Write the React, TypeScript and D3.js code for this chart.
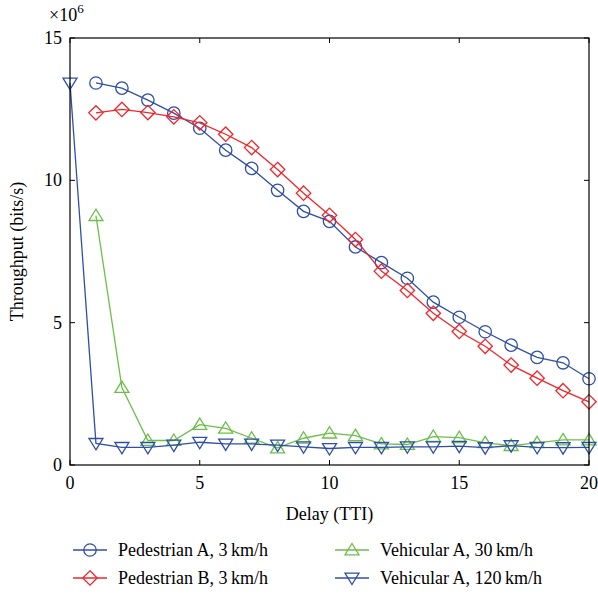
import React from "react";
import * as d3 from "d3";

const delays = d3.range(0, 21);
const pedA = [null, 13.42, 13.24, 12.82, 12.36, 11.83, 11.06, 10.42, 9.65, 8.91, 8.56, 7.66, 7.11, 6.56, 5.72, 5.19, 4.68, 4.21, 3.78, 3.59, 3.03];
const pedB = [null, 12.37, 12.49, 12.38, 12.23, 12.02, 11.62, 11.15, 10.38, 9.55, 8.77, 7.92, 6.81, 6.13, 5.33, 4.69, 4.17, 3.51, 3.05, 2.61, 2.22];
const vehA30 = [null, 8.76, 2.72, 0.86, 0.86, 1.42, 1.29, 0.94, 0.6, 0.94, 1.12, 1.03, 0.74, 0.72, 1.0, 0.96, 0.78, 0.68, 0.78, 0.88, 0.88];
const vehA120 = [13.42, 0.76, 0.62, 0.62, 0.70, 0.80, 0.74, 0.74, 0.70, 0.64, 0.58, 0.62, 0.62, 0.64, 0.64, 0.66, 0.61, 0.68, 0.62, 0.61, 0.62];
const xTicks = [0, 5, 10, 15, 20];
const yTicks = [0, 5, 10, 15];

const BLUE = "#2f4fa6";
const RED = "#f0262a";
const GREEN = "#6cbf4a";

const series = [
  { name: "Pedestrian A, 3\u2009km/h", values: pedA, color: BLUE, marker: "circle" },
  { name: "Pedestrian B, 3\u2009km/h", values: pedB, color: RED, marker: "diamond" },
  { name: "Vehicular A, 30\u2009km/h", values: vehA30, color: GREEN, marker: "up" },
  { name: "Vehicular A, 120\u2009km/h", values: vehA120, color: BLUE, marker: "down" },
];

const FONT = "'Liberation Serif', 'Times New Roman', serif";

function Marker({ type, x, y, color }: { type: string; x: number; y: number; color: string }) {
  const common = { fill: "none", stroke: color, strokeWidth: 1.3 };
  if (type === "circle") return <circle cx={x} cy={y} r={6.2} {...common} />;
  if (type === "diamond") {
    const s = 7.2;
    return <path d={`M${x},${y - s}L${x + s},${y}L${x},${y + s}L${x - s},${y}Z`} {...common} />;
  }
  if (type === "up") {
    const h = 6.5, w = 7;
    return <path d={`M${x},${y - h}L${x + w},${y + h * 0.75}L${x - w},${y + h * 0.75}Z`} {...common} />;
  }
  const h = 6.5, w = 7;
  return <path d={`M${x},${y + h}L${x + w},${y - h * 0.75}L${x - w},${y - h * 0.75}Z`} {...common} />;
}

export default function App() {
  const W = 598, H = 594;
  const L = 70, R = 589, T = 38, B = 465;
  const x = d3.scaleLinear().domain([0, 20]).range([L, R]);
  const y = d3.scaleLinear().domain([0, 15]).range([B, T]);
  const line = d3
    .line<number | null>()
    .defined((d) => d !== null)
    .x((_, i) => x(delays[i]))
    .y((d) => y(d as number));

  const legendPos = [
    { lx: 73, ly: 550 },
    { lx: 73, ly: 578 },
    { lx: 335, ly: 550 },
    { lx: 335, ly: 578 },
  ];

  return (
    <svg width={W} height={H} style={{ position: "absolute", left: 0, top: 0, background: "#fff", fontFamily: FONT }}>
      <rect x={0} y={0} width={W} height={H} fill="#fff" />
      {xTicks.map((t) => (
        <g key={"x" + t}>
          <line x1={x(t)} x2={x(t)} y1={B} y2={B - 5} stroke="#000" />
          <line x1={x(t)} x2={x(t)} y1={T} y2={T + 5} stroke="#000" />
          <text x={x(t)} y={B + 24} textAnchor="middle" fontSize={18} style={{ fontFamily: FONT }}>{t}</text>
        </g>
      ))}
      {yTicks.map((t) => (
        <g key={"y" + t}>
          <line x1={L} x2={L + 5} y1={y(t)} y2={y(t)} stroke="#000" />
          <line x1={R} x2={R - 5} y1={y(t)} y2={y(t)} stroke="#000" />
          <text x={L - 8} y={y(t) + 6} textAnchor="end" fontSize={18} style={{ fontFamily: FONT }}>{t}</text>
        </g>
      ))}
      {series.map((s, si) => (
        <g key={si}>
          <path d={line(s.values) || ""} fill="none" stroke={s.color} strokeWidth={1.3} />
          {s.values.map((v, i) =>
            v === null ? null : <Marker key={i} type={s.marker} x={x(delays[i])} y={y(v)} color={s.color} />
          )}
        </g>
      ))}
      <rect x={L} y={T} width={R - L} height={B - T} fill="none" stroke="#000" strokeWidth={1.2} />
      <text x={49} y={21} fontSize={18} style={{ fontFamily: FONT }}>
        ×10<tspan dy={-8} fontSize={13}>6</tspan>
      </text>
      <text x={(L + R) / 2} y={520} textAnchor="middle" fontSize={18} style={{ fontFamily: FONT }}>Delay (TTI)</text>
      <text transform={`translate(23,${(T + B) / 2}) rotate(-90)`} textAnchor="middle" fontSize={18} style={{ fontFamily: FONT }}>
        Throughput (bits/s)
      </text>
      {series.map((s, i) => {
        const p = legendPos[i];
        return (
          <g key={"lg" + i}>
            <line x1={p.lx} x2={p.lx + 34} y1={p.ly} y2={p.ly} stroke={s.color} strokeWidth={1.3} />
            <Marker type={s.marker} x={p.lx + 17} y={p.ly} color={s.color} />
            <text x={p.lx + 45} y={p.ly + 6} fontSize={18} style={{ fontFamily: FONT }}>{s.name}</text>
          </g>
        );
      })}
    </svg>
  );
}
